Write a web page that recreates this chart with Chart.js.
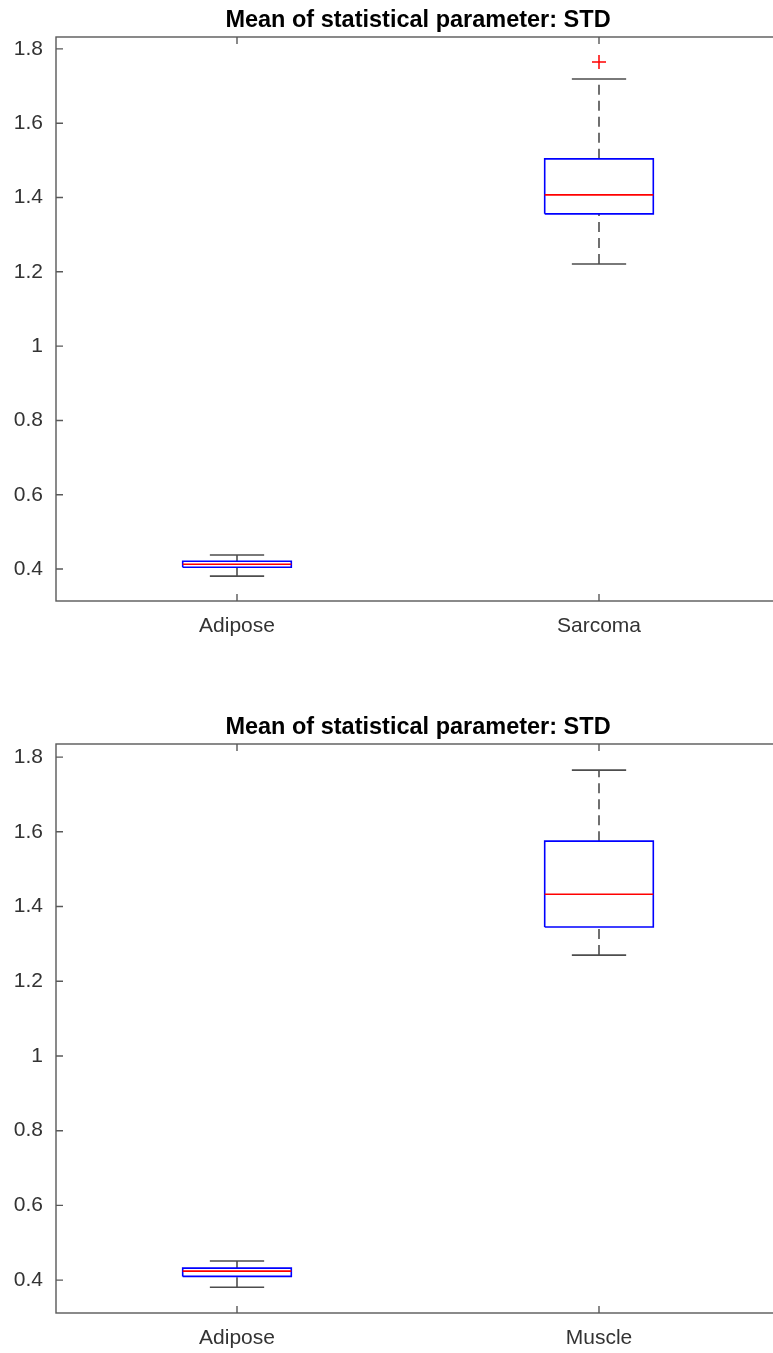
<!DOCTYPE html>
<html>
<head>
<meta charset="utf-8">
<script src="https://cdn.jsdelivr.net/npm/chart.js@4.4.1/dist/chart.umd.min.js"></script>
<style>
    html, body { margin: 0; padding: 0; overflow: hidden; background: #fff; width: 773px; height: 1353px; }
    canvas { position: absolute; left: 0; }
    #chartTop { top: 0; }
    #chartBottom { top: 707px; }
</style>
</head>
<body>
<canvas id="chartTop" width="800" height="650"></canvas>
<canvas id="chartBottom" width="800" height="655"></canvas>
<script>
//====================================
// DATOS
//====================================
const titleText = 'Mean of statistical parameter: STD';
const yTickValues = [0.4, 0.6, 0.8, 1.0, 1.2, 1.4, 1.6, 1.8];
const yTickLabels = ['0.4', '0.6', '0.8', '1', '1.2', '1.4', '1.6', '1.8'];

// Grafico superior
const categoriesTop = ['Adipose', 'Sarcoma'];
const whiskerLowTop = [0.381, 1.221];
const q1Top = [0.405, 1.356];
const medianTop = [0.413, 1.407];
const q3Top = [0.421, 1.504];
const whiskerHighTop = [0.438, 1.719];
const outliersTop = [[], [1.765]];
const yRangeTop = [0.314, 1.832];

// Grafico inferior
const categoriesBottom = ['Adipose', 'Muscle'];
const whiskerLowBottom = [0.381, 1.270];
const q1Bottom = [0.410, 1.345];
const medianBottom = [0.424, 1.433];
const q3Bottom = [0.432, 1.575];
const whiskerHighBottom = [0.451, 1.765];
const outliersBottom = [[], []];
const yRangeBottom = [0.312, 1.835];

//====================================
// ESTILOS
//====================================
const fontFamily = '"Liberation Sans", Arial, sans-serif';
const textColor = '#333';
const axisColor = '#595959';
const boxHalf = 0.15;   // media anchura de la caja (unidades de x)
const capHalf = 0.075;  // media anchura del bigote

// Caja del eje con ticks hacia dentro (estilo MATLAB)
const ejesPlugin = {
    id: 'ejesMatlab',
    afterDatasetsDraw(chart) {
        const { ctx, chartArea: a, scales } = chart;
        ctx.save();
        ctx.strokeStyle = axisColor;
        ctx.lineWidth = 1.4;
        ctx.strokeRect(a.left, a.top, a.right - a.left, a.bottom - a.top);
        ctx.beginPath();
        scales.y.ticks.forEach(t => {
            const py = scales.y.getPixelForValue(t.value);
            ctx.moveTo(a.left, py); ctx.lineTo(a.left + 7, py);
            ctx.moveTo(a.right, py); ctx.lineTo(a.right - 7, py);
        });
        scales.x.ticks.forEach(t => {
            const px = scales.x.getPixelForValue(t.value);
            ctx.moveTo(px, a.bottom); ctx.lineTo(px, a.bottom - 7);
            ctx.moveTo(px, a.top); ctx.lineTo(px, a.top + 7);
        });
        ctx.stroke();
        ctx.restore();
    }
};

function segment(points, color, order, dash) {
    return {
        data: points,
        borderColor: color,
        borderWidth: 1.6,
        borderDash: dash || [],
        pointRadius: 0,
        fill: false,
        tension: 0,
        order: order
    };
}

function buildDatasets(wl, q1, med, q3, wh, outliers) {
    const datasets = [];
    q1.forEach((_, i) => {
        const x = i + 1;
        // bigotes
        datasets.push(segment([{ x: x, y: q3[i] }, { x: x, y: wh[i] }], '#4d4d4d', 4, [10, 6]));
        datasets.push(segment([{ x: x, y: wl[i] }, { x: x, y: q1[i] }], '#4d4d4d', 4, [10, 6]));
        datasets.push(segment([{ x: x - capHalf, y: wh[i] }, { x: x + capHalf, y: wh[i] }], '#4d4d4d', 4));
        datasets.push(segment([{ x: x - capHalf, y: wl[i] }, { x: x + capHalf, y: wl[i] }], '#4d4d4d', 4));
        // caja
        datasets.push(segment([
            { x: x - boxHalf, y: q1[i] }, { x: x + boxHalf, y: q1[i] },
            { x: x + boxHalf, y: q3[i] }, { x: x - boxHalf, y: q3[i] },
            { x: x - boxHalf, y: q1[i] }
        ], '#0000ff', 2));
        // mediana
        datasets.push(segment([{ x: x - boxHalf, y: med[i] }, { x: x + boxHalf, y: med[i] }], '#ff0000', 1));
        // atipicos
        if (outliers[i].length) {
            datasets.push({
                data: outliers[i].map(v => ({ x: x, y: v })),
                showLine: false,
                pointStyle: 'cross',
                pointRadius: 7,
                pointBorderColor: '#ff0000',
                pointBorderWidth: 1.5,
                order: 0
            });
        }
    });
    return datasets;
}

function makeChart(canvasId, categories, yRange, datasets) {
    const ctx = document.getElementById(canvasId);
    return new Chart(ctx, {
        type: 'line',
        data: { datasets: datasets },
        options: {
            responsive: false,
            animation: false,
            devicePixelRatio: 1,
            layout: { padding: { left: 0, right: 20, top: 0, bottom: 7 } },
            plugins: {
                legend: { display: false },
                tooltip: { enabled: false },
                title: {
                    display: true,
                    text: titleText,
                    fullSize: false,
                    color: '#000',
                    font: { family: fontFamily, size: 23.5, weight: 'bold', lineHeight: 1 },
                    padding: { top: 9, bottom: 4.5 }
                }
            },
            scales: {
                x: {
                    type: 'linear',
                    min: 0.5,
                    max: 2.5,
                    grid: { display: false, drawTicks: false },
                    border: { display: false },
                    afterBuildTicks: (scale) => {
                        scale.ticks = categories.map((c, i) => ({ value: i + 1 }));
                    },
                    afterFit: (scale) => { scale.height = 42; },
                    ticks: {
                        padding: 13,
                        color: textColor,
                        font: { family: fontFamily, size: 21 },
                        callback: (value, index) => categories[index]
                    }
                },
                y: {
                    min: yRange[0],
                    max: yRange[1],
                    grid: { display: false, drawTicks: false },
                    border: { display: false },
                    afterBuildTicks: (scale) => {
                        scale.ticks = yTickValues.map(v => ({ value: v }));
                    },
                    afterFit: (scale) => { scale.width = 56; },
                    ticks: {
                        padding: 13,
                        color: textColor,
                        font: { family: fontFamily, size: 21 },
                        callback: (value, index) => yTickLabels[index]
                    }
                }
            }
        },
        plugins: [ejesPlugin]
    });
}

document.addEventListener('DOMContentLoaded', function () {
    makeChart('chartTop', categoriesTop, yRangeTop,
        buildDatasets(whiskerLowTop, q1Top, medianTop, q3Top, whiskerHighTop, outliersTop));
    makeChart('chartBottom', categoriesBottom, yRangeBottom,
        buildDatasets(whiskerLowBottom, q1Bottom, medianBottom, q3Bottom, whiskerHighBottom, outliersBottom));
});
</script>
</body>
</html>
